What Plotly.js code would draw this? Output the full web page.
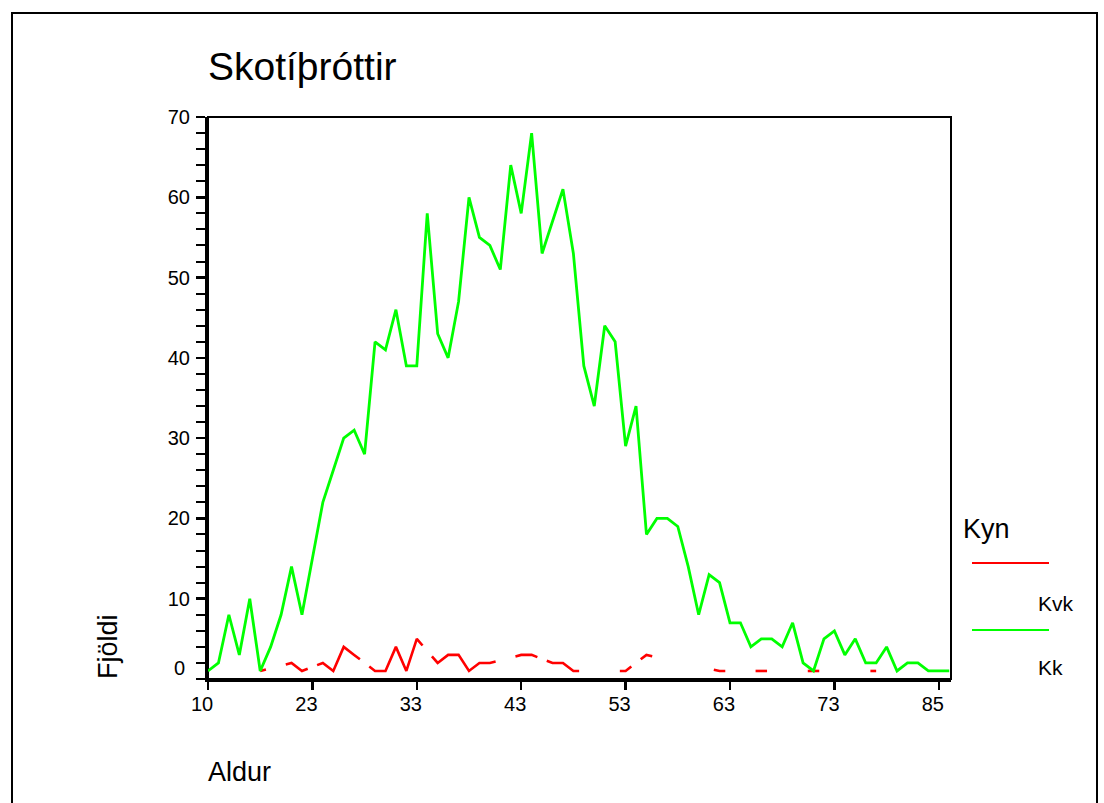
<!DOCTYPE html>
<html>
<head>
<meta charset="utf-8">
<script src="https://cdn.plot.ly/plotly-3.0.1.min.js"></script>
<style>html,body{margin:0;padding:0;background:#fff;}#chart{width:1104px;height:803px;}</style>
</head>
<body>
<div id="chart"></div>
<script>
// Age categories (x axis is categorical: some ages absent)
const ages = [10,14,15,16,17,18,19,20,21,22,
  23,24,25,26,27,28,29,30,31,32,33,34,35,36,37,38,39,40,41,42,43,44,45,46,47,48,49,50,
  51,52,53,54,55,56,57,58,59,60,61,62,63,64,65,66,67,68,69,70,71,72,73,
  74,75,76,77,78,79,80,81,82,85,86];
const tickAges = [10,23,33,43,53,63,73,85];

// Kk (men)
const kk = [1,2,8,3,10,1,4,8,14,8,
  15,22,26,30,31,28,42,41,46,39,
  39,58,43,40,47,60,55,54,51,64,
  58,68,53,57,61,53,39,34,44,42,
  29,34,18,20,20,19,14,8,13,12,
  7,7,4,5,5,4,7,2,1,5,
  6,3,5,2,2,4,1,2,2,1,
  1,1];

// Kvk (women) - null where no count
const kvk = [null,null,null,null,null,1,null,null,2,1,
  null,2,1,4,3,null,1,1,4,1,
  5,null,2,3,3,1,2,2,null,null,
  3,3,null,2,2,1,null,null,null,null,
  1,null,3,null,null,null,null,null,null,1,
  null,null,null,1,null,null,null,null,1,null,
  null,null,null,null,1,null,null,null,null,null,
  null,null];

const seriesNames = ['Kvk','Kk'];
const seriesColors = ['#ff0000','#00ff00'];
const legendTitle = 'Kyn';

// Build line path: gaps are bridged only by short stubs from each side
function stubbed(vals){
  const xs=[], ys=[]; let prev=null; const h=0.55;
  vals.forEach((v,i)=>{
    if(v===null||v===undefined) return;
    if(prev===null){ xs.push(i); ys.push(v); }
    else if(i-prev.i===1){ xs.push(i); ys.push(v); }
    else {
      const d=i-prev.i;
      xs.push(prev.i+h); ys.push(prev.v+(v-prev.v)*h/d);
      xs.push(null); ys.push(null);
      xs.push(i-h); ys.push(v-(v-prev.v)*h/d);
      xs.push(i); ys.push(v);
    }
    prev={i:i,v:v};
  });
  return {xs, ys};
}

const idx = ages.map((a,i)=>i);
const r = stubbed(kvk);
const FONT = 'Liberation Sans, Arial, Helvetica, sans-serif';

const traces = [
  {x:r.xs, y:r.ys, type:'scatter', mode:'lines', name:seriesNames[0],
   line:{color:seriesColors[0], width:2.6}, connectgaps:false, showlegend:false, hoverinfo:'skip'},
  {x:idx, y:kk, type:'scatter', mode:'lines', name:seriesNames[1],
   line:{color:seriesColors[1], width:2.8}, showlegend:false,
   text:ages.map(String), hovertemplate:'%{text}: %{y}<extra>Kk</extra>'}
];

const W=743, H=562;
const yticks = [0,10,20,30,40,50,60,70];

const layout = {
  width:1104, height:803,
  margin:{l:208, r:153, t:117, b:124, pad:0},
  paper_bgcolor:'#ffffff', plot_bgcolor:'#ffffff',
  font:{family:FONT, color:'#000'},
  title:{text:'Skotíþróttir', font:{family:FONT, size:39, color:'#000'},
    x:0, xref:'paper', xanchor:'left', y:1-66/803, yref:'container', yanchor:'middle'},
  xaxis:{range:[0,71.17], tickmode:'array',
    tickvals:tickAges.map(a=>ages.indexOf(a)), ticktext:tickAges.map(String),
    showgrid:false, zeroline:false, showline:true, linecolor:'#000', linewidth:3,
    ticks:'outside', ticklen:8, tickwidth:2.5, tickcolor:'#000',
    ticklabelshift:-6, ticklabelstandoff:-3,
    tickfont:{family:FONT, size:20, color:'#000'}},
  yaxis:{range:[0,70], tickmode:'array', tickvals:yticks,
    ticktext:yticks.map(v=> v===0 ? '' : String(v)),
    showgrid:false, zeroline:false, showline:true, linecolor:'#000', linewidth:3,
    ticks:'outside', ticklen:9, tickwidth:2.5, tickcolor:'#000',
    ticklabelstandoff:2,
    minor:{dtick:2, ticks:'outside', ticklen:9, tickwidth:2, tickcolor:'#000', showgrid:false},
    tickfont:{family:FONT, size:20, color:'#000'}},
  shapes:[
    {type:'rect', xref:'paper', yref:'paper', x0:0, x1:1, y0:0, y1:1, line:{color:'#000', width:2}, layer:'below'},
    {type:'rect', xref:'paper', yref:'paper', x0:(12-208)/W, x1:(1097-208)/W, y0:(679-830)/H, y1:(679-13)/H,
     line:{color:'#000', width:2}, fillcolor:'rgba(0,0,0,0)'},
    {type:'line', xref:'paper', yref:'paper', x0:(972-208)/W, x1:(1049-208)/W, y0:(679-563)/H, y1:(679-563)/H,
     line:{color:seriesColors[0], width:2}},
    {type:'line', xref:'paper', yref:'paper', x0:(972-208)/W, x1:(1049-208)/W, y0:(679-630)/H, y1:(679-630)/H,
     line:{color:seriesColors[1], width:2}}
  ],
  annotations:[
    {text:'0', xref:'paper', yref:'paper', x:(187-208)/W, y:(679-668)/H, xanchor:'right', yanchor:'middle',
     showarrow:false, font:{family:FONT, size:20, color:'#000'}},
    {text:'Fjöldi', xref:'paper', yref:'paper', x:(108-208)/W, y:(679-647)/H, xanchor:'center', yanchor:'middle',
     textangle:-90, showarrow:false, font:{family:FONT, size:27, color:'#000'}},
    {text:'Aldur', xref:'paper', yref:'paper', x:(206-208)/W, y:(679-772)/H, xanchor:'left', yanchor:'middle',
     showarrow:false, font:{family:FONT, size:27, color:'#000'}},
    {text:legendTitle, xref:'paper', yref:'paper', x:(961-208)/W, y:(679-529)/H, xanchor:'left', yanchor:'middle',
     showarrow:false, font:{family:FONT, size:27, color:'#000'}},
    {text:seriesNames[0], xref:'paper', yref:'paper', x:(1036-208)/W, y:(679-603)/H, xanchor:'left', yanchor:'middle',
     showarrow:false, font:{family:FONT, size:21, color:'#000'}},
    {text:seriesNames[1], xref:'paper', yref:'paper', x:(1036-208)/W, y:(679-667)/H, xanchor:'left', yanchor:'middle',
     showarrow:false, font:{family:FONT, size:21, color:'#000'}}
  ],
  showlegend:false
};

Plotly.newPlot('chart', traces, layout, {displayModeBar:false, staticPlot:true});
</script>
</body>
</html>
